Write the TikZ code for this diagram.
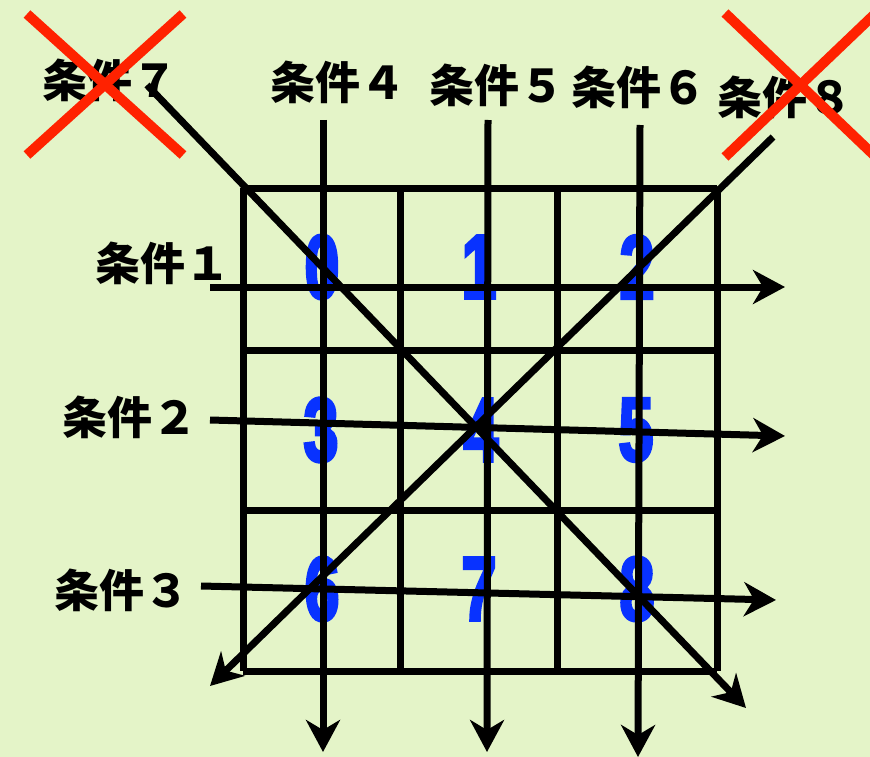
\documentclass[tikz,border=0pt]{standalone}
\usepackage{fontspec}
\newfontfamily\jp{Noto Sans CJK JP}
\newfontfamily\numfont{Liberation Sans}[BoldFeatures={FakeBold=4}]
\usetikzlibrary{arrows.meta}
\definecolor{bg}{RGB}{228,244,200}
\definecolor{numblue}{RGB}{8,50,255}
\definecolor{crossred}{RGB}{255,34,0}
\begin{document}
\begin{tikzpicture}[x=1pt,y=-1pt,
  cond/.style={font=\jp\bfseries\fontsize{45}{45}\selectfont, inner sep=0pt},
  num/.style={font=\numfont\bfseries\fontsize{90}{90}\selectfont, text=numblue, xscale=0.7, inner sep=0pt},
  gridline/.style={line width=7pt, black},
  condarrow/.style={line width=7pt, black, -{Stealth[length=32pt,width=34pt,inset=10pt]}},
  cross/.style={line width=10pt, crossred}
]
\useasboundingbox (0,0) rectangle (870,757);
\fill[bg] (0,0) rectangle (870,757);
\clip (0,0) rectangle (870,757);

% grid
\foreach \yy in {188,350,510,671}
  \draw[gridline] (243,\yy) -- (717,\yy);
\foreach \xx in {243,400,557,717}
  \draw[gridline] (\xx,188) -- (\xx,671);

% cell numbers
\node[num] (n0) at (322,267) {0};
\node[num] (n1) at (479,267) {1};
\node[num] (n2) at (637,267) {2};
\node[num] (n3) at (321,430) {3};
\node[num] (n4) at (481,430) {4};
\node[num] (n5) at (636,430) {5};
\node[num] (n6) at (322,589) {6};
\node[num] (n7) at (479,589) {7};
\node[num] (n8) at (637,589) {8};

% condition labels
\node[cond] (c1) at (163,263) {条件１};
\node[cond] (c2) at (130,417) {条件２};
\node[cond] (c3) at (122,590) {条件３};
\node[cond] (c4) at (338,82) {条件４};
\node[cond] (c5) at (497,85) {条件５};
\node[cond] (c6) at (639,87) {条件６};
\node[cond] (c7) at (110,80) {条件７};
\node[cond] (c8) at (785,97) {条件８};

% arrow end points
\coordinate (s1) at (210,287); \coordinate (e1) at (785,287);
\coordinate (s2) at (210,420); \coordinate (e2) at (785,436);
\coordinate (s3) at (201,586); \coordinate (e3) at (776,600);
\coordinate (s4) at (323,120); \coordinate (e4) at (323,752);
\coordinate (s5) at (488,120); \coordinate (e5) at (487,752);
\coordinate (s6) at (640,125); \coordinate (e6) at (638,757);
\coordinate (s7) at (147,85);  \coordinate (e7) at (746,708);
\coordinate (s8) at (773,137); \coordinate (e8) at (210,686);

\foreach \i in {1,...,8}
  \draw[condarrow] (s\i) -- (e\i);

% red crosses
\coordinate (xa1) at (27,14);  \coordinate (xa2) at (183,155);
\coordinate (xb1) at (27,155); \coordinate (xb2) at (183,14);
\coordinate (xc1) at (725,13); \coordinate (xc2) at (880,161);
\coordinate (xd1) at (725,157); \coordinate (xd2) at (880,9);
\draw[cross] (xa1) -- (xa2);
\draw[cross] (xb1) -- (xb2);
\draw[cross] (xc1) -- (xc2);
\draw[cross] (xd1) -- (xd2);
\end{tikzpicture}
\end{document}
